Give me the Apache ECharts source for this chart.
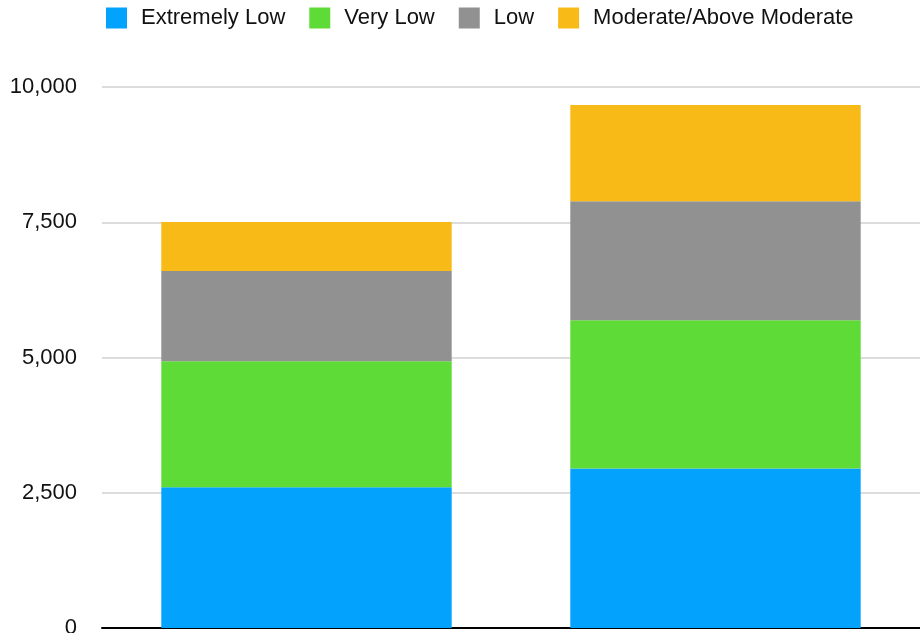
<!DOCTYPE html>
<html>
<head>
<meta charset="utf-8">
<style>
  html, body { margin: 0; padding: 0; background: #fff; overflow: hidden; }
  #chart { width: 920px; height: 633px; }
</style>
<script src="https://cdn.jsdelivr.net/npm/echarts@6/dist/echarts.min.js"></script>
</head>
<body>
<div id="chart"></div>
<script>
// Household counts by income band, stacked per group
const categories = ['Group A', 'Group B'];
const extremelyLow = [2600, 2950];
const veryLow = [2330, 2740];
const low = [1670, 2200];
const moderateAbove = [905, 1775];
const yTicks = [0, 2500, 5000, 7500, 10000];

const seriesDefs = [
  { name: 'Extremely Low', data: extremelyLow, color: '#03a2fd' },
  { name: 'Very Low', data: veryLow, color: '#5fdb37' },
  { name: 'Low', data: low, color: '#919191' },
  { name: 'Moderate/Above Moderate', data: moderateAbove, color: '#f8ba16' }
];

const chart = echarts.init(document.getElementById('chart'), null, { renderer: 'canvas' });
const fontFamily = 'Liberation Sans, Helvetica, Arial, sans-serif';

chart.setOption({
  animation: false,
  backgroundColor: '#ffffff',
  legend: {
    top: 7,
    left: 106,
    padding: 0,
    itemWidth: 21,
    itemHeight: 21,
    itemGap: 24,
    icon: 'rect',
    textStyle: { fontFamily, fontSize: 22, color: '#111', padding: [0, 0, 0, 9] },
    data: seriesDefs.map(s => s.name)
  },
  grid: {
    left: 102, right: 0, top: 87, bottom: 5,
    containLabel: false,
    outerBoundsMode: 'none'
  },
  xAxis: {
    type: 'category',
    data: categories,
    axisLine: { lineStyle: { color: '#000', width: 2 } },
    axisTick: { show: false },
    axisLabel: { show: false }
  },
  yAxis: {
    type: 'value',
    min: yTicks[0],
    max: yTicks[yTicks.length - 1],
    interval: yTicks[1] - yTicks[0],
    axisLine: { show: false },
    axisTick: { show: false },
    axisLabel: {
      fontFamily,
      fontSize: 22,
      color: '#111',
      margin: 25,
      formatter: v => v.toLocaleString('en-US')
    },
    splitLine: { lineStyle: { color: '#d0d0d0', width: 1.5 } }
  },
  series: seriesDefs.map(s => ({
    name: s.name,
    type: 'bar',
    stack: 'total',
    data: s.data,
    barWidth: '71%',
    itemStyle: { color: s.color }
  }))
});
</script>
</body>
</html>
